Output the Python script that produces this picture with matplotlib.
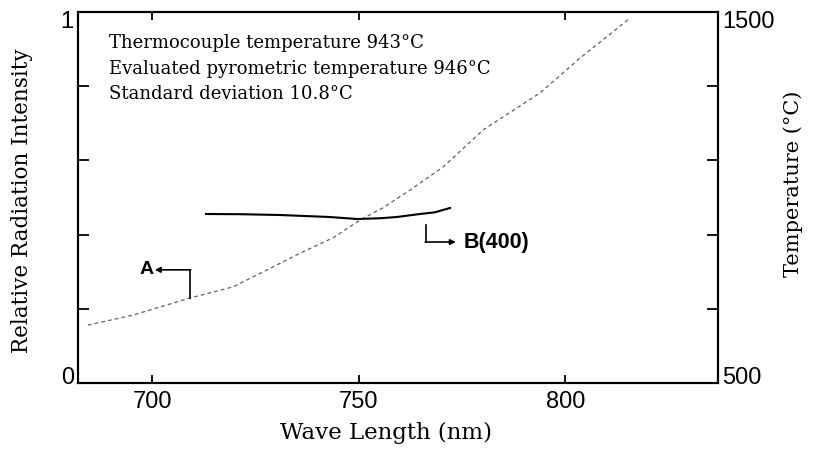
import matplotlib
matplotlib.use("Agg")
import matplotlib.pyplot as plt
from matplotlib.ticker import FixedLocator
from matplotlib.transforms import ScaledTranslation

# ---- data ----
wl_A = [684.4, 695.3, 709.1, 719.5, 727.8, 735.8, 743.7, 750.3, 755.8,
        762.4, 770.4, 780.1, 793.9, 803.6, 811.5, 815.7]
int_A = [0.156, 0.183, 0.229, 0.259, 0.305, 0.350, 0.391, 0.439, 0.472,
         0.520, 0.582, 0.682, 0.782, 0.876, 0.946, 0.984]

wl_B = [713.0, 721.2, 730.9, 743.0, 749.6, 755.0, 759.2, 764.8, 768.4, 772.1]
temp_B = [955.5, 955.0, 952.8, 947.4, 942.0, 944.0, 947.4, 955.5, 960.0, 971.7]

x_ticks = [700, 750, 800]
x_ticklabels = ["700", "750", "800"]
y_ticks = [0, 0.2, 0.4, 0.6, 0.8, 1.0]
y_ticklabels = ["0", "", "", "", "", "1"]
t_ticks = [500, 700, 900, 1100, 1300, 1500]
t_ticklabels = ["500", "", "", "", "", "1500"]

info_lines = ["Thermocouple temperature 943°C",
              "Evaluated pyrometric temperature 946°C",
              "Standard deviation 10.8°C"]

serif = "DejaVu Serif"
sans = "Liberation Sans"

fig = plt.figure(figsize=(8.18, 4.5), dpi=100)
ax = fig.add_axes([78/818, 1-383/450, (718-78)/818, (383-12)/450])
ax2 = ax.twinx()

ax.set_xlim(682, 837)
ax.set_ylim(0, 1)
ax2.set_ylim(500, 1500)

ax.plot(wl_A, int_A, color="#606060", lw=0.9, ls=(0, (3, 2.5)))
ax2.plot(wl_B, temp_B, color="black", lw=1.5)

for a in (ax, ax2):
    for s in a.spines.values():
        s.set_linewidth(1.5)

ax.xaxis.set_major_locator(FixedLocator(x_ticks))
ax.set_xticklabels(x_ticklabels, fontfamily=sans, fontsize=17)
ax.yaxis.set_major_locator(FixedLocator(y_ticks))
ax.set_yticklabels(y_ticklabels, fontfamily=sans, fontsize=17)
ax.tick_params(axis="x", direction="in", length=6, width=1.3, top=True, pad=6)
ax.tick_params(axis="y", direction="in", length=8, width=1.3, pad=3)
ax2.yaxis.set_major_locator(FixedLocator(t_ticks))
ax2.set_yticklabels(t_ticklabels, fontfamily=sans, fontsize=17)
ax2.tick_params(axis="y", direction="in", length=8, width=1.3, pad=3)

# nudge end labels inward like the reference
up = ScaledTranslation(0, 7/100, fig.dpi_scale_trans)
down = ScaledTranslation(0, -7/100, fig.dpi_scale_trans)
for a in (ax, ax2):
    labs = a.get_yticklabels()
    labs[0].set_transform(labs[0].get_transform() + up)
    labs[-1].set_transform(labs[-1].get_transform() + down)

fig.text(386/818, 1-433/450, "Wave Length (nm)", fontfamily=serif, fontsize=16.5,
         ha="center", va="center")
fig.text(22/818, 1-201/450, "Relative Radiation Intensity", fontfamily=serif,
         fontsize=15.5, ha="center", va="center", rotation=90)
fig.text(793/818, 1-184/450, "Temperature (°C)", fontfamily=serif,
         fontsize=15, ha="center", va="center", rotation=90)

for i, line in enumerate(info_lines):
    fig.text(109/818, 1-(43 + 25.5*i)/450, line, fontfamily=serif, fontsize=13,
             va="center", ha="left")

# annotation A
ax.plot([709.1, 709.1], [0.229, 0.305], color="black", lw=1.2)
ax.annotate("", xy=(700.6, 0.305), xytext=(709.3, 0.305),
            arrowprops=dict(arrowstyle="-|>", color="black", lw=1.2,
                            mutation_scale=8, shrinkA=0, shrinkB=0))
ax.text(700.4, 0.305, "A", fontfamily=sans, fontweight="bold", fontsize=14,
        ha="right", va="center")

# annotation B
ax2.plot([766.3, 766.3], [926, 880], color="black", lw=1.2)
ax2.annotate("", xy=(773.5, 880), xytext=(766.1, 880),
             arrowprops=dict(arrowstyle="-|>", color="black", lw=1.2,
                             mutation_scale=8, shrinkA=0, shrinkB=0))
ax2.text(775.3, 880, "B(400)", fontfamily=sans, fontweight="bold", fontsize=15.5,
         ha="left", va="center")

fig.savefig("out.png", dpi=100)
